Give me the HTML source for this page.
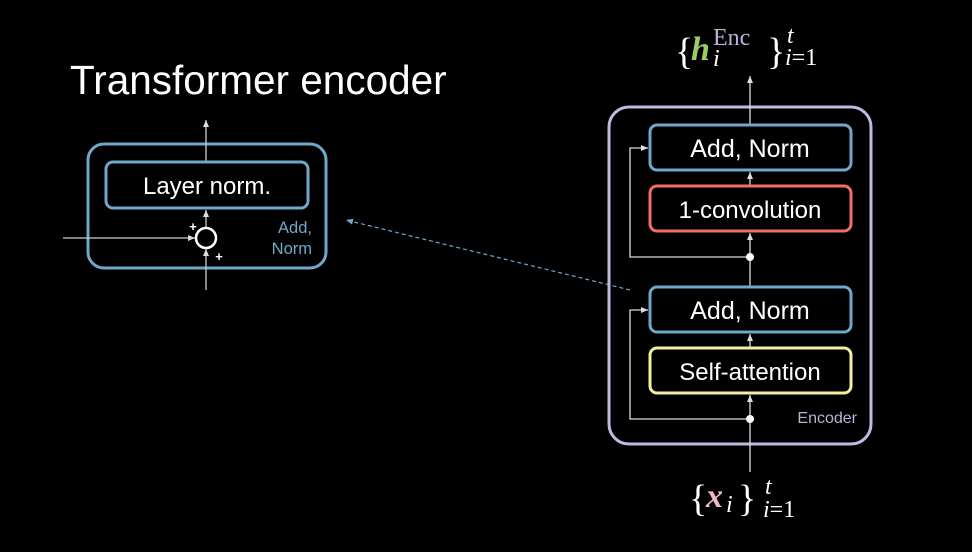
<!DOCTYPE html>
<html><head><style>
body{margin:0;background:#000;width:972px;height:547px;overflow:hidden}
</style></head><body>
<svg width="972" height="547" xmlns="http://www.w3.org/2000/svg" font-family="Liberation Sans, sans-serif">
<defs>
<marker id="a" markerWidth="8" markerHeight="8" refX="7" refY="4" orient="auto" markerUnits="userSpaceOnUse"><path d="M0,1 L7,4 L0,7 z" fill="#ddd"/></marker>
<marker id="b" markerWidth="8" markerHeight="8" refX="7" refY="4" orient="auto" markerUnits="userSpaceOnUse"><path d="M0,1 L7,4 L0,7 z" fill="#6fa8c8"/></marker>
</defs>
<text x="70" y="94" font-size="40.5" fill="#fff">Transformer encoder</text>
<rect x="88" y="144" width="238" height="124" rx="16" fill="none" stroke="#6fa8c8" stroke-width="3"/>
<line x1="206" y1="290" x2="206" y2="249" stroke="#ccc" stroke-width="1.3" marker-end="url(#a)"/>
<line x1="206" y1="228" x2="206" y2="210" stroke="#ccc" stroke-width="1.3" marker-end="url(#a)"/>
<line x1="206" y1="162" x2="206" y2="120" stroke="#ccc" stroke-width="1.3" marker-end="url(#a)"/>
<line x1="63" y1="238" x2="195" y2="238" stroke="#ccc" stroke-width="1.3" marker-end="url(#a)"/>
<rect x="106" y="162" width="202" height="46" rx="7" fill="#000" stroke="#6fa8c8" stroke-width="3"/>
<text x="207" y="194" font-size="24" fill="#fff" text-anchor="middle">Layer norm.</text>
<circle cx="206" cy="238" r="10" fill="#000" stroke="#fff" stroke-width="2.5"/>
<text x="193" y="231" font-size="13" fill="#fff" text-anchor="middle" font-weight="bold">+</text>
<text x="219" y="261" font-size="13" fill="#fff" text-anchor="middle" font-weight="bold">+</text>
<text x="312" y="233" font-size="16.5" fill="#6fa8c8" text-anchor="end">Add,</text>
<text x="312" y="254" font-size="16.5" fill="#6fa8c8" text-anchor="end">Norm</text>
<line x1="630" y1="290" x2="346" y2="220" stroke="#6fa8c8" stroke-width="1.2" stroke-dasharray="4,3" marker-end="url(#b)"/>
<rect x="609" y="107" width="262" height="337" rx="20" fill="none" stroke="#c0badf" stroke-width="3"/>
<line x1="750" y1="472" x2="750" y2="395" stroke="#ddd" stroke-width="1.3" marker-end="url(#a)"/>
<line x1="750" y1="348" x2="750" y2="334" stroke="#ddd" stroke-width="1.3" marker-end="url(#a)"/>
<line x1="750" y1="287" x2="750" y2="233" stroke="#ddd" stroke-width="1.3" marker-end="url(#a)"/>
<line x1="750" y1="186" x2="750" y2="172" stroke="#ddd" stroke-width="1.3" marker-end="url(#a)"/>
<line x1="750" y1="125" x2="750" y2="76" stroke="#ddd" stroke-width="1.3" marker-end="url(#a)"/>
<polyline points="750,419 630,419 630,310 648,310" fill="none" stroke="#ddd" stroke-width="1.3" marker-end="url(#a)"/>
<polyline points="750,257 630,257 630,148 648,148" fill="none" stroke="#ddd" stroke-width="1.3" marker-end="url(#a)"/>
<circle cx="750" cy="419" r="4" fill="#fff"/>
<circle cx="750" cy="257" r="4" fill="#fff"/>
<rect x="650" y="125" width="201" height="45" rx="7" fill="#000" stroke="#6fa8c8" stroke-width="3"/>
<text x="750" y="157" font-size="25" fill="#fff" text-anchor="middle">Add, Norm</text>
<rect x="650" y="186" width="201" height="45" rx="7" fill="#000" stroke="#f07060" stroke-width="3"/>
<text x="750" y="218" font-size="24" fill="#fff" text-anchor="middle">1-convolution</text>
<rect x="650" y="287" width="201" height="45" rx="7" fill="#000" stroke="#6fa8c8" stroke-width="3"/>
<text x="750" y="319" font-size="25" fill="#fff" text-anchor="middle">Add, Norm</text>
<rect x="650" y="348" width="201" height="45" rx="7" fill="#000" stroke="#f5f0a0" stroke-width="3"/>
<text x="750" y="380" font-size="24" fill="#fff" text-anchor="middle">Self-attention</text>
<text x="857" y="423" font-size="16" fill="#b9b3d8" text-anchor="end">Encoder</text>
<g font-family="Liberation Serif, serif">
<text x="675" y="64" font-size="38" fill="#fff">{</text>
<text x="691" y="60" font-size="34" fill="#9ccc65" font-style="italic" font-weight="bold">h</text>
<text x="713" y="45" font-size="24" fill="#b9b3d8">Enc</text>
<text x="713" y="66" font-size="24" fill="#fff" font-style="italic">i</text>
<text x="767" y="64" font-size="38" fill="#fff">}</text>
<text x="787" y="43" font-size="24" fill="#fff" font-style="italic">t</text>
<text x="785" y="65" font-size="24" fill="#fff"><tspan font-style="italic">i</tspan>=1</text>
<text x="689" y="511" font-size="38" fill="#fff">{</text>
<text x="706" y="507" font-size="34" fill="#f4b6c6" font-style="italic" font-weight="bold">x</text>
<text x="726" y="512" font-size="24" fill="#fff" font-style="italic">i</text>
<text x="738" y="511" font-size="38" fill="#fff">}</text>
<text x="765" y="494" font-size="24" fill="#fff" font-style="italic">t</text>
<text x="763" y="517" font-size="24" fill="#fff"><tspan font-style="italic">i</tspan>=1</text>
</g>
</svg>
</body></html>
